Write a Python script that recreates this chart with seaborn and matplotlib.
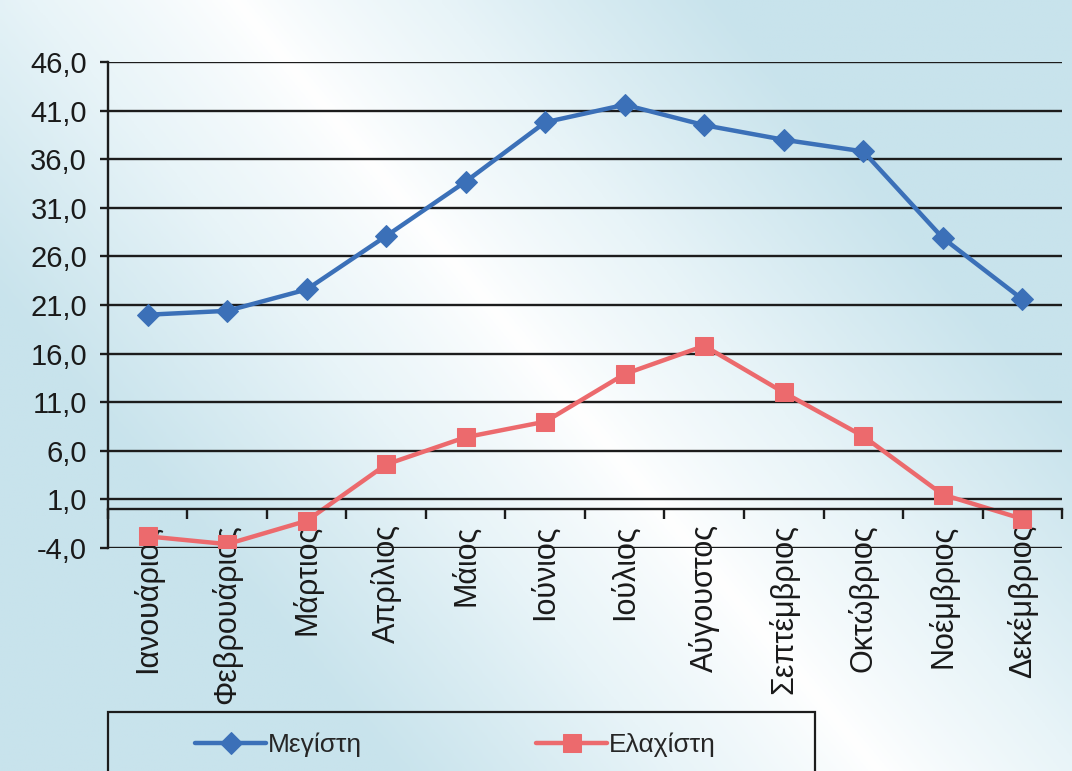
import numpy as np
import pandas as pd
import seaborn as sns
import matplotlib.pyplot as plt
from matplotlib.colors import LinearSegmentedColormap
from matplotlib.patches import Rectangle

# Data
months = ['Ιανουάριος', 'Φεβρουάριος', 'Μάρτιος', 'Απρίλιος', 'Μάιος', 'Ιούνιος',
          'Ιούλιος', 'Αύγουστος', 'Σεπτέμβριος', 'Οκτώβριος', 'Νοέμβριος', 'Δεκέμβριος']
max_temp = [20.0, 20.4, 22.6, 28.1, 33.7, 39.8, 41.6, 39.5, 38.0, 36.8, 27.9, 21.6]
min_temp = [-2.8, -3.6, -1.2, 4.6, 7.4, 9.0, 13.9, 16.8, 12.0, 7.5, 1.5, -1.0]
y_ticks = [-4, 1, 6, 11, 16, 21, 26, 31, 36, 41, 46]
series_names = ['Μεγίστη', 'Ελαχίστη']

blue = '#3b70b8'
red = '#ec6a6d'
ink = '#1c1c1c'

sns.set_style('white')
plt.rcParams['font.family'] = ['Liberation Sans', 'DejaVu Sans']

fig = plt.figure(figsize=(10.72, 7.71), dpi=100)

# soft diagonal gradient behind everything
bg = fig.add_axes([0, 0, 1, 1], zorder=-10)
xx, yy = np.meshgrid(np.linspace(0, 1, 400), np.linspace(0, 1, 300))
t = np.clip(np.abs(xx - (0.22 + 0.6 * yy)) * 2.2, 0, 1) ** 0.8
t = np.maximum(t, np.clip((0.09 - xx) * 8, 0, 1) * 0.8)
cmap = LinearSegmentedColormap.from_list('bg', ['#ffffff', '#e8f4f8', '#c8e3ec'])
bg.imshow(t, cmap=cmap, aspect='auto', extent=[0, 1, 0, 1], origin='upper', vmin=0, vmax=1)
bg.axis('off')

ax = fig.add_axes([0.1007, 0.2892, 0.89, 0.6304])
ax.patch.set_alpha(0)

sns.lineplot(x=months, y=max_temp, ax=ax, sort=False, color=blue, linewidth=3.2,
             marker='D', markersize=11, markeredgecolor=blue, label=series_names[0])
sns.lineplot(x=months, y=min_temp, ax=ax, sort=False, color=red, linewidth=3.2,
             marker='s', markersize=13, markeredgecolor=red, label=series_names[1])

ax.set_xlim(-0.5, 11.5)
ax.set_ylim(-4, 46)
ax.set_yticks(y_ticks)
ax.set_yticklabels([f'{v:.1f}'.replace('.', ',') for v in y_ticks])
ax.yaxis.grid(True, color=ink, linewidth=1.7)
ax.set_axisbelow(True)

ax.spines['top'].set_visible(False)
ax.spines['right'].set_visible(False)
ax.spines['left'].set_color(ink)
ax.spines['left'].set_linewidth(1.7)
ax.spines['bottom'].set_position(('data', 0))
ax.spines['bottom'].set_color(ink)
ax.spines['bottom'].set_linewidth(1.7)

ax.tick_params(axis='y', left=True, length=6, width=1.7, color=ink,
               labelsize=21, pad=9, labelcolor='#1a1a1a')
ax.tick_params(axis='x', which='major', bottom=True, length=0, pad=11,
               labelsize=22, labelrotation=90, labelcolor='#1a1a1a')
ax.set_xticks(np.arange(-0.5, 12, 1), minor=True)
ax.tick_params(axis='x', which='minor', bottom=True, length=7, width=1.7, color=ink)
ax.set_xlabel('')
ax.set_ylabel('')

# legend box
fig.patches.append(Rectangle((0.1007, -0.05), 0.6595, 0.1265, transform=fig.transFigure,
                             fill=False, edgecolor=ink, linewidth=1.6))
handles, labels = ax.get_legend_handles_labels()
ax.get_legend().remove()
fig.legend(handles, labels, loc='center left', ncol=2, frameon=False,
           bbox_to_anchor=(0.182, 0.034), fontsize=19, borderpad=0, borderaxespad=0,
           handlelength=2.7, handletextpad=0.05, columnspacing=6.6)

fig.savefig('out.png', dpi=100)
